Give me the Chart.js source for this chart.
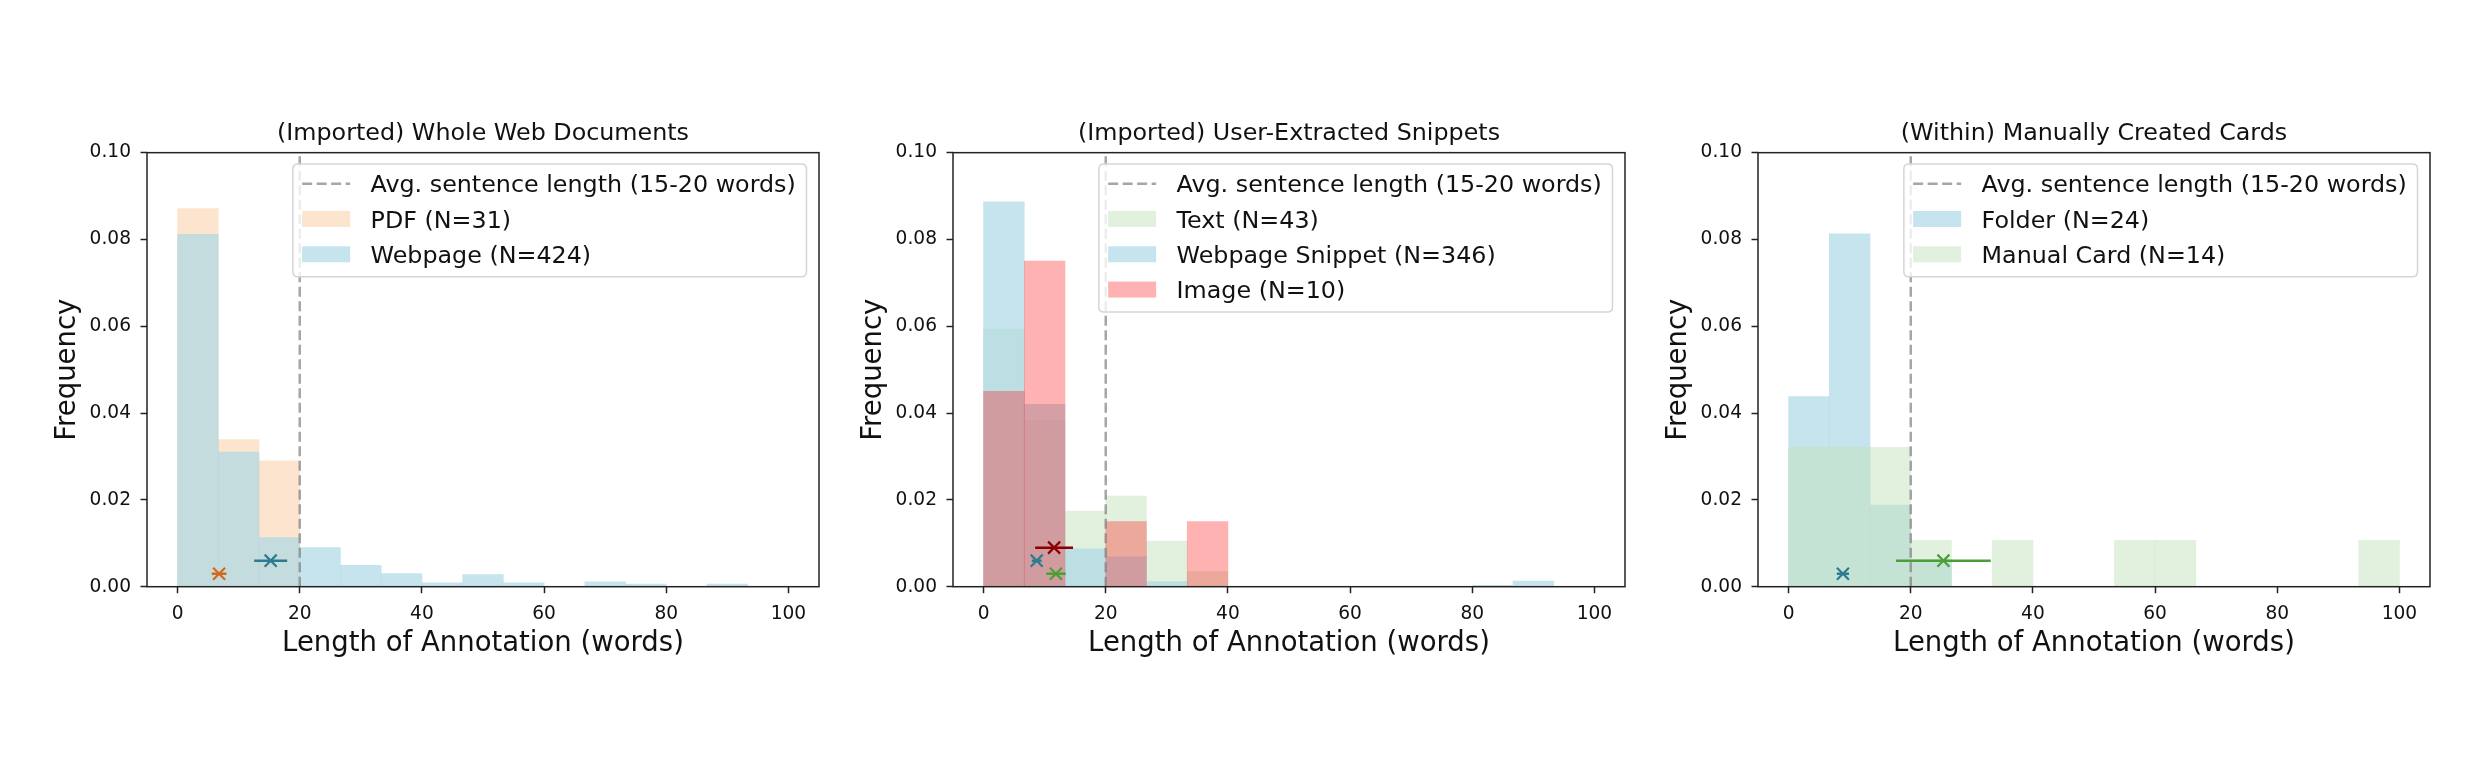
<!DOCTYPE html>
<html>
<head>
<meta charset="utf-8">
<script src="https://cdn.jsdelivr.net/npm/chart.js@4.4.1/dist/chart.umd.min.js"></script>
<style>
html,body{margin:0;padding:0;background:#fff;}
body{width:2491px;height:757px;position:relative;overflow:hidden;}
.panel{position:absolute;top:0;}
canvas{display:block;}
</style>
</head>
<body>
<div class="panel" style="left:0px"><canvas id="c1" width="859" height="757"></canvas></div>
<div class="panel" style="left:805.7px"><canvas id="c2" width="859" height="757"></canvas></div>
<div class="panel" style="left:1610.7px"><canvas id="c3" width="859" height="757"></canvas></div>
<script>
// ---------- shared axis data ----------
const BIN_CENTERS = [3.33, 10.0, 16.67, 23.33, 30.0, 36.67, 43.33, 50.0, 56.67, 63.33, 70.0, 76.67, 83.33, 90.0, 96.67];
const X_TICKS = [0, 20, 40, 60, 80, 100];
const Y_TICKS = [0, 0.02, 0.04, 0.06, 0.08, 0.10];
const AVG_SENTENCE_LENGTH = 20;
const AVG_LABEL = 'Avg. sentence length (15-20 words)';
const X_LABEL = 'Length of Annotation (words)';
const Y_LABEL = 'Frequency';

// ---------- panel 1 ----------
const P1_TITLE = '(Imported) Whole Web Documents';
const P1_LABELS = ['PDF (N=31)', 'Webpage (N=424)'];
const P1_PDF = [0.0871, 0.0339, 0.0290, 0, 0, 0, 0, 0, 0, 0, 0, 0, 0, 0, 0];
const P1_WEBPAGE = [0.0812, 0.0310, 0.0113, 0.0090, 0.0049, 0.0030, 0.0009, 0.0028, 0.0009, 0, 0.0011, 0.0006, 0, 0.0006, 0];
const P1_MEANS = [6.8, 15.25];
const P1_ERRS = [1.2, 2.7];
const P1_MARK_Y = [0.003, 0.006];

// ---------- panel 2 ----------
const P2_TITLE = '(Imported) User-Extracted Snippets';
const P2_LABELS = ['Text (N=43)', 'Webpage Snippet (N=346)', 'Image (N=10)'];
const P2_TEXT = [0.0593, 0.0384, 0.0174, 0.0209, 0.0105, 0.0035, 0, 0, 0, 0, 0, 0, 0, 0, 0];
const P2_SNIPPET = [0.0887, 0.0420, 0.0087, 0.0069, 0.0012, 0, 0, 0, 0, 0, 0, 0, 0.0003, 0.0013, 0];
const P2_IMAGE = [0.045, 0.075, 0, 0.015, 0, 0.015, 0, 0, 0, 0, 0, 0, 0, 0, 0];
const P2_MEANS = [11.85, 8.7, 11.55];
const P2_ERRS = [1.6, 0.8, 3.1];
const P2_MARK_Y = [0.003, 0.006, 0.009];

// ---------- panel 3 ----------
const P3_TITLE = '(Within) Manually Created Cards';
const P3_LABELS = ['Folder (N=24)', 'Manual Card (N=14)'];
const P3_FOLDER = [0.0438, 0.0813, 0.0188, 0.0063, 0, 0, 0, 0, 0, 0, 0, 0, 0, 0, 0];
const P3_CARD = [0.0321, 0.0321, 0.0321, 0.0107, 0, 0.0107, 0, 0, 0.0107, 0.0107, 0, 0, 0, 0, 0.0107];
const P3_MEANS = [8.9, 25.35];
const P3_ERRS = [1.0, 7.75];
const P3_MARK_Y = [0.003, 0.006];

// ---------- styles ----------
const FONT = '"DejaVu Sans", "Liberation Sans", sans-serif';
const TXT = '#111';
const C_PEACH = 'rgba(244,164,96,0.3)';
const C_BLUE = 'rgba(173,216,230,0.7)';
const C_GREEN = 'rgba(197,225,189,0.5)';
const C_RED = 'rgba(255,0,0,0.3)';
const M_ORANGE = '#D2691E';
const M_TEAL = '#2B7C8F';
const M_GREEN = '#4C9F38';
const M_RED = '#8B0000';
const DASH_COLOR = 'rgba(128,128,128,0.7)';

const frameAndLegend = {
  id: 'frameAndLegend',
  afterDraw(chart) {
    const ctx = chart.ctx, ca = chart.chartArea;
    ctx.save();
    ctx.strokeStyle = '#222';
    ctx.lineWidth = 1.5;
    ctx.strokeRect(ca.left, ca.top, ca.right - ca.left, ca.bottom - ca.top);

    const items = chart.data.datasets.filter(d => d.legendKind);
    const fs = 23.8;
    ctx.font = fs + 'px ' + FONT;
    const tw = Math.max(...items.map(d => ctx.measureText(d.label).width));
    const w = 77.7 + tw + 10.7;
    const h = items.length * 35.3 + 6.8;
    const right = ca.right - 12.5, top = ca.top + 11.3, left = right - w;
    const r = 5;
    ctx.beginPath();
    ctx.moveTo(left + r, top);
    ctx.lineTo(right - r, top); ctx.quadraticCurveTo(right, top, right, top + r);
    ctx.lineTo(right, top + h - r); ctx.quadraticCurveTo(right, top + h, right - r, top + h);
    ctx.lineTo(left + r, top + h); ctx.quadraticCurveTo(left, top + h, left, top + h - r);
    ctx.lineTo(left, top + r); ctx.quadraticCurveTo(left, top, left + r, top);
    ctx.closePath();
    ctx.fillStyle = 'rgba(255,255,255,0.8)';
    ctx.fill();
    ctx.strokeStyle = '#d6d6d6';
    ctx.lineWidth = 1.5;
    ctx.stroke();

    items.forEach((d, i) => {
      const cy = top + 19.7 + i * 35.3;
      if (d.legendKind === 'line') {
        ctx.save();
        ctx.setLineDash(d.borderDash);
        ctx.strokeStyle = d.borderColor;
        ctx.lineWidth = d.borderWidth;
        ctx.beginPath();
        ctx.moveTo(left + 9.3, cy);
        ctx.lineTo(left + 57.3, cy);
        ctx.stroke();
        ctx.restore();
      } else {
        ctx.fillStyle = d.backgroundColor;
        ctx.fillRect(left + 9.3, cy - 8, 48, 16);
      }
      ctx.fillStyle = TXT;
      ctx.textBaseline = 'alphabetic';
      ctx.textAlign = 'left';
      ctx.fillText(d.label, left + 77.7, cy + 8.7);
    });
    ctx.restore();
  }
};

function makeChart(id, title, series) {
  const datasets = [];
  datasets.push({
    type: 'line', label: AVG_LABEL, legendKind: 'line',
    data: [{x: AVG_SENTENCE_LENGTH, y: Y_TICKS[0]}, {x: AVG_SENTENCE_LENGTH, y: Y_TICKS[Y_TICKS.length - 1]}],
    borderColor: DASH_COLOR, borderWidth: 2.5, borderDash: [10, 4.5],
    pointRadius: 0, order: 0
  });
  const n = series.length;
  series.forEach((s, i) => {
    datasets.push({
      type: 'bar', label: s.label, legendKind: 'patch',
      data: BIN_CENTERS.map((x, k) => ({x: x, y: s.values[k]})),
      backgroundColor: s.fill, borderWidth: 0, grouped: false,
      barPercentage: 1, categoryPercentage: 1,
      order: 10 + (n - i)
    });
  });
  series.forEach((s) => {
    datasets.push({
      type: 'line',
      data: [{x: s.mean - s.err, y: s.markY}, {x: s.mean + s.err, y: s.markY}],
      borderColor: s.mark, borderWidth: 2.5, pointRadius: 0, order: -1
    });
    datasets.push({
      type: 'line',
      data: [{x: s.mean, y: s.markY}],
      showLine: false, pointStyle: 'crossRot', pointRadius: 8.5,
      pointBorderWidth: 2.2, pointBorderColor: s.mark, pointBackgroundColor: 'rgba(0,0,0,0)',
      order: -2
    });
  });

  return new Chart(document.getElementById(id), {
    type: 'bar',
    data: {datasets},
    options: {
      responsive: false, animation: false, devicePixelRatio: 1, events: [],
      layout: {padding: {left: 0, right: 40, top: 119.4, bottom: 0}},
      scales: {
        x: {
          type: 'linear', min: -5, max: 105, offset: false,
          afterBuildTicks: a => { a.ticks = X_TICKS.map(v => ({value: v})); },
          afterFit: a => { a.height = 170.3; },
          ticks: {callback: v => String(v), font: {family: FONT, size: 18.6}, color: TXT, padding: 9.5, maxRotation: 0, autoSkip: false},
          grid: {display: true, drawOnChartArea: false, drawTicks: true, tickLength: 6.5, tickColor: '#222', tickWidth: 1.5, offset: false},
          border: {display: false},
          title: {display: true, text: X_LABEL, font: {family: FONT, size: 27.5}, color: TXT, padding: {top: 0, bottom: 97}}
        },
        y: {
          type: 'linear', min: 0, max: 0.1, stacked: false,
          afterBuildTicks: a => { a.ticks = Y_TICKS.map(v => ({value: v})); },
          afterFit: a => { a.width = 147; },
          ticks: {callback: v => Number(v).toFixed(2), font: {family: FONT, size: 18.6}, color: TXT, padding: 9.5, autoSkip: false},
          grid: {display: true, drawOnChartArea: false, drawTicks: true, tickLength: 6.5, tickColor: '#222', tickWidth: 1.5},
          border: {display: false},
          title: {display: true, text: Y_LABEL, font: {family: FONT, size: 27.5}, color: TXT, padding: {top: 51.3, bottom: 0}}
        }
      },
      plugins: {
        legend: {display: false},
        tooltip: {enabled: false},
        title: {display: true, text: title, fullSize: false, font: {family: FONT, size: 23.8, weight: 'normal'}, color: TXT, padding: {top: 0, bottom: 4.7}}
      }
    },
    plugins: [frameAndLegend]
  });
}

makeChart('c1', P1_TITLE, [
  {label: P1_LABELS[0], values: P1_PDF, fill: C_PEACH, mark: M_ORANGE, mean: P1_MEANS[0], err: P1_ERRS[0], markY: P1_MARK_Y[0]},
  {label: P1_LABELS[1], values: P1_WEBPAGE, fill: C_BLUE, mark: M_TEAL, mean: P1_MEANS[1], err: P1_ERRS[1], markY: P1_MARK_Y[1]}
]);
makeChart('c2', P2_TITLE, [
  {label: P2_LABELS[0], values: P2_TEXT, fill: C_GREEN, mark: M_GREEN, mean: P2_MEANS[0], err: P2_ERRS[0], markY: P2_MARK_Y[0]},
  {label: P2_LABELS[1], values: P2_SNIPPET, fill: C_BLUE, mark: M_TEAL, mean: P2_MEANS[1], err: P2_ERRS[1], markY: P2_MARK_Y[1]},
  {label: P2_LABELS[2], values: P2_IMAGE, fill: C_RED, mark: M_RED, mean: P2_MEANS[2], err: P2_ERRS[2], markY: P2_MARK_Y[2]}
]);
makeChart('c3', P3_TITLE, [
  {label: P3_LABELS[0], values: P3_FOLDER, fill: C_BLUE, mark: M_TEAL, mean: P3_MEANS[0], err: P3_ERRS[0], markY: P3_MARK_Y[0]},
  {label: P3_LABELS[1], values: P3_CARD, fill: C_GREEN, mark: M_GREEN, mean: P3_MEANS[1], err: P3_ERRS[1], markY: P3_MARK_Y[1]}
]);
</script>
</body>
</html>
